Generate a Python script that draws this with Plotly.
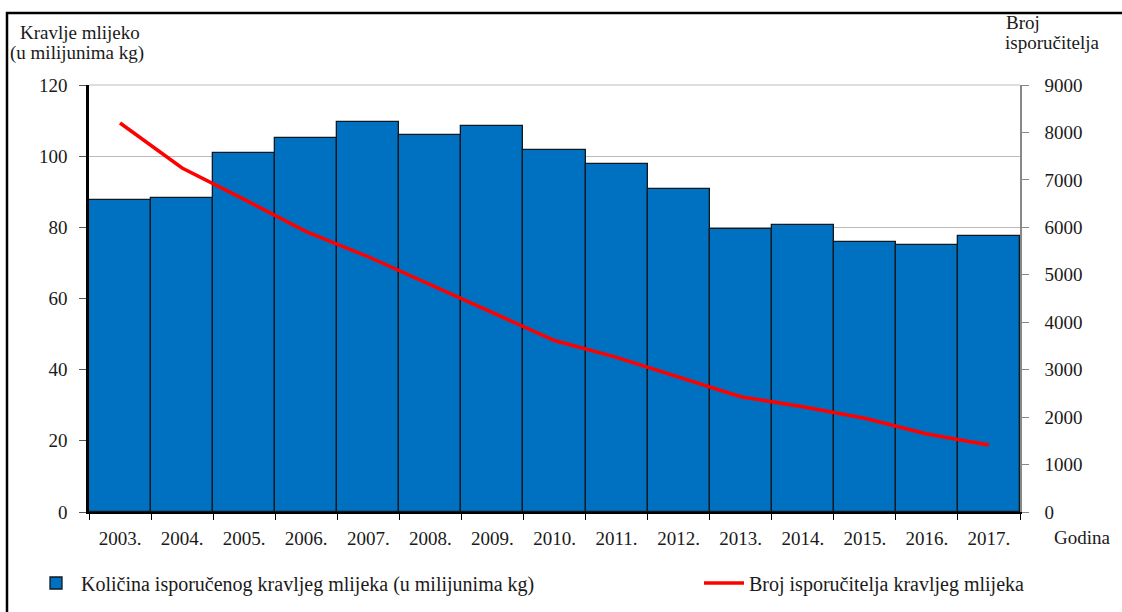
import plotly.graph_objects as go

years = ["2003.", "2004.", "2005.", "2006.", "2007.", "2008.", "2009.", "2010.",
         "2011.", "2012.", "2013.", "2014.", "2015.", "2016.", "2017."]
milk = [87.7, 88.2, 100.9, 105.1, 109.6, 106.0, 108.5, 101.7,
        97.8, 90.8, 79.5, 80.6, 75.9, 75.0, 77.6]
suppliers = [8200, 7250, 6590, 5910, 5380, 4785, 4190, 3615,
             3260, 2840, 2430, 2220, 1975, 1645, 1412]

name_bar = "Količina isporučenog kravljeg mlijeka (u milijunima kg)"
name_line = "Broj isporučitelja kravljeg mlijeka"

FONT = "Liberation Serif"
TXT = "#1a1a1a"
W, H = 1122, 612
L, R, T, B = 89, 102, 85, 100
PW, PH = W - L - R, H - T - B


def px(x):
    return (x - L) / PW


def py(y):
    return (H - B - y) / PH


fig = go.Figure()
fig.add_trace(go.Bar(x=years, y=milk, name=name_bar, legend="legend",
                     marker=dict(color="#0070C0", line=dict(color="#101820", width=1.3)),
                     yaxis="y"))
fig.add_trace(go.Scatter(x=years, y=suppliers, name=name_line, mode="lines", legend="legend2",
                         line=dict(color="#FF0000", width=3.5), yaxis="y2"))

leg_common = dict(orientation="h", yanchor="middle", xanchor="left",
                  font=dict(size=20, family=FONT, color=TXT),
                  itemwidth=40, bgcolor="rgba(0,0,0,0)")

fig.update_layout(
    width=W, height=H,
    margin=dict(l=L, r=R, t=T, b=B, autoexpand=False),
    paper_bgcolor="white", plot_bgcolor="white",
    font=dict(family=FONT, size=19, color=TXT),
    bargap=0,
    showlegend=True,
    legend=dict(x=px(31), y=py(583), **leg_common),
    legend2=dict(x=px(699), y=py(583), **leg_common),
    xaxis=dict(type="category", showline=True, linecolor="#000000", linewidth=1.5,
               ticks="outside", tickson="boundaries", ticklen=6, tickcolor="#000000",
               tickfont=dict(size=19, family=FONT, color=TXT),
               ticklabelstandoff=8,
               showgrid=False, range=[-0.5, 14.5]),
    yaxis=dict(range=[0, 120], dtick=20, showline=True, linecolor="#000000", linewidth=2.5,
               ticks="outside", ticklen=7, tickcolor="#555555",
               showgrid=True, gridcolor="#BBBBBB", gridwidth=1.2,
               tickfont=dict(size=19, family=FONT, color=TXT),
               ticklabelstandoff=8, zeroline=False),
    yaxis2=dict(range=[0, 9000], dtick=1000, overlaying="y", side="right",
                showline=True, linecolor="#888888", linewidth=1.5,
                ticks="outside", ticklen=7, tickcolor="#888888",
                showgrid=False, zeroline=False,
                tickfont=dict(size=19, family=FONT, color=TXT),
                ticklabelstandoff=12),
)

ann = [
    dict(text="Kravlje mlijeko", x=px(18), y=py(32), xanchor="left"),
    dict(text="(u milijunima kg)", x=px(8), y=py(53), xanchor="left"),
    dict(text="Broj", x=px(1023), y=py(22), xanchor="center"),
    dict(text="isporučitelja", x=px(1052), y=py(43), xanchor="center"),
    dict(text="Godina", x=px(1052), y=py(537), xanchor="left"),
]
for a in ann:
    fig.add_annotation(xref="paper", yref="paper", yanchor="middle", showarrow=False,
                       font=dict(size=19, family=FONT, color=TXT), **a)

# top gridline at the axis maximum
fig.add_shape(type="line", xref="paper", yref="paper", x0=0, x1=1, y0=1, y1=1,
              line=dict(color="#BBBBBB", width=1.2), layer="below")

fig.add_shape(type="rect", xref="paper", yref="paper",
              x0=px(7), x1=px(1130), y0=py(13), y1=py(620),
              line=dict(color="#000000", width=2.5), fillcolor="rgba(0,0,0,0)", layer="above")

fig.write_html("out.html", config={"displayModeBar": False},
               post_script="document.body.style.margin='0';document.body.style.overflow='hidden';")
